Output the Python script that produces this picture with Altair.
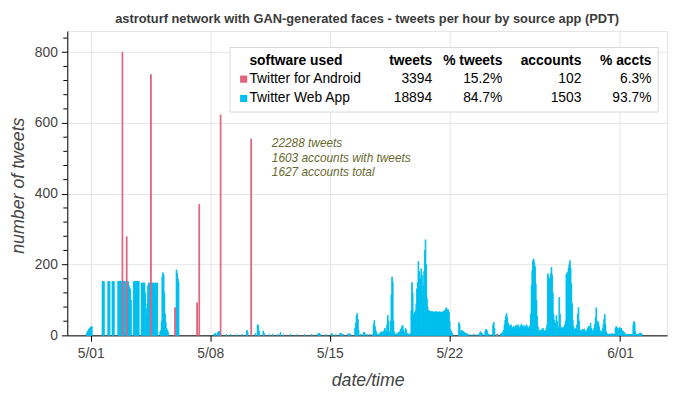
import altair as alt
import pandas as pd

# ---------------- data (hour offsets from 2020-05-01 00:00 PDT) ----------------
tick_hours = [0, 168, 336, 504, 744]
tick_labels = ["5/01", "5/08", "5/15", "5/22", "6/01"]

# Twitter Web App: dense hourly run starting at hour -6
web_a_start = -6
web_a = [6, 10, 14, 17, 20, 22, 24, 25,
         0, 0, 0, 0, 0, 0, 0, 0, 0, 0, 0, 0, 0, 0,
         152, 152, 152, 0, 0, 0, 0, 0, 152, 152, 152, 0, 0, 0,
         152, 152, 152, 0, 0, 0, 0, 0,
         153, 153, 152, 153, 153, 152, 153, 153, 153, 152,
         0, 152, 152, 152, 152, 140, 135, 130, 100, 0, 0, 0,
         152, 152, 153, 152, 152, 153, 152, 152, 0, 0, 0,
         148, 148, 147, 148, 148, 120, 75, 55, 90, 140, 148, 148, 148, 0,
         148, 147, 148, 148, 147, 148, 148, 147, 148, 0, 0, 0,
         10, 14, 40, 165, 177, 170, 120, 60, 37, 20, 15, 10,
         0, 0, 0, 0, 0, 0, 0, 0, 0, 0, 0,
         185, 175, 160, 150]

# Twitter Web App: sparse hours 5/08 - 5/16
web_b_hours = [173, 175, 178, 179, 180, 181, 190, 196, 205, 212, 219, 220, 231,
               234, 235, 236, 242, 243, 250, 255, 262, 266, 270, 280, 290, 300,
               310, 318, 320, 321, 322, 330, 338, 339, 344, 350, 351, 352, 354,
               361, 362, 363, 364]
web_b_vals = [4, 6, 8, 10, 11, 6, 2, 3, 2, 3, 14, 10, 5,
              30, 28, 12, 12, 6, 2, 3, 2, 8, 2, 3, 2, 2,
              3, 3, 6, 5, 3, 2, 5, 4, 2, 6, 5, 4, 3,
              4, 4, 3, 4]

# Twitter Web App: dense hourly run starting at hour 371 (5/16 - 5/22)
web_c_start = 371
web_c = [20, 35, 55, 62, 45, 15, 0, 0, 3, 0, 0, 0, 8, 8, 4,
         0, 0, 2, 0, 0, 0, 3, 0, 0, 0, 2,
         30, 42, 25, 15, 8, 0, 2, 0,
         3, 5, 8, 10, 8, 6, 10, 15, 20, 12, 8,
         30, 56, 40, 10, 10, 40, 115, 165, 150, 40, 10, 0, 3, 0,
         5, 3, 8, 5, 10, 18, 12, 25, 28, 15, 8, 0, 20, 15, 5, 3, 2, 4, 3, 5,
         70, 149, 120, 60, 57, 65, 70, 90, 132, 150, 209, 180, 137, 160, 188,
         170, 113, 140, 180, 240, 270, 200, 104, 80,
         68, 70, 66, 67, 65, 68, 66, 64, 67, 65, 66, 68, 65, 64, 66, 65, 67,
         66, 64, 65, 66, 67, 68, 70, 72, 78, 75, 70, 72, 65, 40,
         16, 12, 8, 4]

# Twitter Web App: dense hourly run starting at hour 517 (5/22 - 6/02)
web_d_start = 517
web_d = [36, 30, 12, 8, 14, 12, 10, 8, 8, 6, 5, 4, 3, 2,
         0, 0, 2, 0, 0, 0, 0, 3, 0, 0, 0, 0, 2, 0, 0,
         5, 10, 8, 6, 4, 0, 0, 0, 12, 17, 15, 10, 0, 3, 0, 0, 2, 0, 0,
         30, 37, 20, 0, 0, 2, 0, 0, 0, 0, 3, 4, 5, 8, 10,
         15, 30, 43, 55, 62, 50, 35, 30, 25, 20, 30, 25, 18,
         22, 25, 20, 24, 28, 26, 22, 30, 25, 20, 23, 27, 32, 25, 22, 28, 24,
         20, 26, 30, 25, 22, 20, 24, 28,
         60, 140, 183, 211, 216, 205, 194, 146, 100, 53, 25, 11, 15,
         12, 15, 10, 18, 20, 14, 12, 10, 15, 20, 30,
         174, 165, 160, 150, 175, 192, 170, 120, 60, 43,
         30, 35, 56, 40, 25, 20,
         107, 60, 25, 20, 18, 22, 20, 25, 30, 40,
         174, 170, 179, 190, 200, 211, 190, 146, 90, 43, 25,
         15, 18, 20, 15, 30, 60, 78, 40,
         16, 12, 10, 15, 17, 15, 18, 12, 10, 8, 15, 20, 25, 18,
         25, 34, 20, 15, 10, 12, 20, 30, 50, 78, 40,
         30, 38, 25, 15, 10, 8, 12, 20, 30, 45, 59, 30, 10, 5,
         3, 2, 4, 3, 2, 3, 5, 4, 3, 2, 4,
         20, 25, 22, 18, 12, 20, 22, 18, 20, 15, 12, 10, 8, 6,
         3, 2, 2, 3, 2, 2, 3, 2, 2, 3, 4,
         30, 39, 35, 10, 3, 2, 2, 3, 2, 6, 6, 5, 4]

# Twitter for Android
android_hours = [44, 50, 84, 118, 149, 152, 182, 225, 571]
android_vals = [800, 279, 737, 78, 92, 370, 623, 555, 4]

# legend table
sources = ["Twitter for Android", "Twitter Web App"]
src_tweets = ["3394", "18894"]
src_pct_tweets = ["15.2%", "84.7%"]
src_accounts = ["102", "1503"]
src_pct_accts = ["6.3%", "93.7%"]
headers = ["tweets", "% tweets", "accounts", "% accts"]
notes = ["22288 tweets", "1603 accounts with tweets", "1627 accounts total"]

PINK = "#e0627f"
CYAN = "#00bfee"
FONT = "Liberation Sans"

# ---------------- tables ----------------
rows = []
for start, vals in [(web_a_start, web_a), (web_c_start, web_c), (web_d_start, web_d)]:
    for i, v in enumerate(vals):
        rows.append((start + i, v))
rows += list(zip(web_b_hours, web_b_vals))
web = pd.DataFrame(rows, columns=["hour", "tweets"])
web = web[web.tweets > 0].sort_values("hour")
web["end"] = web.hour + 1

andr = pd.DataFrame({"hour": android_hours, "tweets": android_vals})
andr["end"] = andr.hour + 1

legend_df = pd.DataFrame({
    "name": sources, "tw": src_tweets, "pt": src_pct_tweets,
    "ac": src_accounts, "pa": src_pct_accts, "color": [PINK, CYAN],
    "row": [0, 1]})
hdr_df = pd.DataFrame({"h": headers, "col": [0, 1, 2, 3]})
note_df = pd.DataFrame({"t": notes, "i": [0, 1, 2]})
minor_df = pd.DataFrame({"tweets": [v for v in range(40, 861, 40) if v % 200 != 0]})

# ---------------- scales / axes ----------------
label_expr = " : ".join(f"datum.value == {h} ? '{l}'" for h, l in zip(tick_hours, tick_labels)) + " : ''"
xscale = alt.Scale(domain=[-33, 810], nice=False, zero=False)
yscale = alt.Scale(domain=[0, 860], nice=False)

xaxis = alt.Axis(values=tick_hours, labelExpr=label_expr, title="date/time",
                 grid=True, gridColor="#e5e5e5", domainColor="black", tickColor="black",
                 tickSize=6, labelColor="#444", labelFont=FONT, labelFontSize=14,
                 labelPadding=5, titleFont=FONT, titleFontSize=18, titleFontStyle="italic",
                 titleFontWeight="normal", titleColor="#444", titleX=304, titleY=46,
                 titleBaseline="middle", titleAlign="center")
yaxis = alt.Axis(values=[0, 200, 400, 600, 800], title="number of tweets",
                 grid=True, gridColor="#e5e5e5", domainColor="black", tickColor="black",
                 tickSize=6, labelColor="#444", labelFont=FONT, labelFontSize=14,
                 labelPadding=4, titleFont=FONT, titleFontSize=18, titleFontStyle="italic",
                 titleFontWeight="normal", titleColor="#444", titleX=-49, titleY=156,
                 titleAngle=270, titleBaseline="middle", titleAlign="center")

X = alt.X("hour:Q", scale=xscale, axis=xaxis)
Y = alt.Y("tweets:Q", scale=yscale, axis=yaxis)

web_bars = alt.Chart(web).mark_rect(color=CYAN, stroke=CYAN, strokeWidth=0.9).encode(
    x=X, x2="end:Q", y=Y, y2=alt.datum(0),
)
and_bars = alt.Chart(andr).mark_rect(color=PINK, stroke=PINK, strokeWidth=1.0).encode(
    x=X, x2="end:Q", y=Y, y2=alt.datum(0),
)
minor_ticks = alt.Chart(minor_df).mark_rule(color="black", strokeWidth=1).encode(
    y=Y, x=alt.value(-4), x2=alt.value(0),
)

title = alt.Chart(pd.DataFrame({"t": ["astroturf network with GAN-generated faces - tweets per hour by source app (PDT)"]})).mark_text(
    font=FONT, fontSize=13, fontWeight="bold", color="#3a3a3a", align="center", baseline="middle"
).encode(text="t:N", x=alt.value(303.5), y=alt.value(-12))

box = alt.Chart(pd.DataFrame({"a": [0]})).mark_rect(fill="white", stroke="#d8d8d8", strokeWidth=1).encode(
    x=alt.value(164.7), x2=alt.value(598), y=alt.value(16.7), y2=alt.value(82))

hdr_left = alt.Chart(pd.DataFrame({"t": ["software used"]})).mark_text(
    font=FONT, fontSize=14, fontWeight="bold", color="black", align="left", baseline="middle"
).encode(text="t:N", x=alt.value(184.3), y=alt.value(30))

hdr_right = alt.Chart(hdr_df).transform_calculate(
    xp="[369.3, 440.3, 520.3, 591.3][datum.col]"
).mark_text(font=FONT, fontSize=14, fontWeight="bold", color="black", align="right", baseline="middle").encode(
    text="h:N", x=alt.X("xp:Q", scale=None), y=alt.value(30))

leg_base = alt.Chart(legend_df).transform_calculate(yp="48.7 + 19.6 * datum.row")
squares = leg_base.mark_square(size=52, opacity=1, filled=True).encode(
    x=alt.value(178.5), y=alt.Y("yp:Q", scale=None), color=alt.Color("color:N", scale=None))
names = leg_base.mark_text(font=FONT, fontSize=14, color="black", align="left", baseline="middle").encode(
    text="name:N", x=alt.value(184.3), y=alt.Y("yp:Q", scale=None))
cols = []
for field, xp in [("tw", 369.3), ("pt", 440.3), ("ac", 520.3), ("pa", 591.3)]:
    cols.append(leg_base.mark_text(font=FONT, fontSize=14, color="black", align="right", baseline="middle").encode(
        text=f"{field}:N", x=alt.value(xp), y=alt.Y("yp:Q", scale=None)))

note = alt.Chart(note_df).transform_calculate(yp="113.5 + 14.8 * datum.i").mark_text(
    font=FONT, fontSize=12, fontStyle="italic", color="#68692e", align="left", baseline="middle"
).encode(text="t:N", x=alt.value(207), y=alt.Y("yp:Q", scale=None))

chart = alt.layer(web_bars, and_bars, minor_ticks, title, box, hdr_left, hdr_right,
                  squares, names, *cols, note).properties(
    width=607, height=308,
    autosize=alt.AutoSizeParams(type="none"),
    padding={"left": 60, "top": 21, "right": 5, "bottom": 52},
).configure_view(stroke="#e5e5e5")

chart.save("out.html", embed_options={"renderer": "svg", "actions": False})
